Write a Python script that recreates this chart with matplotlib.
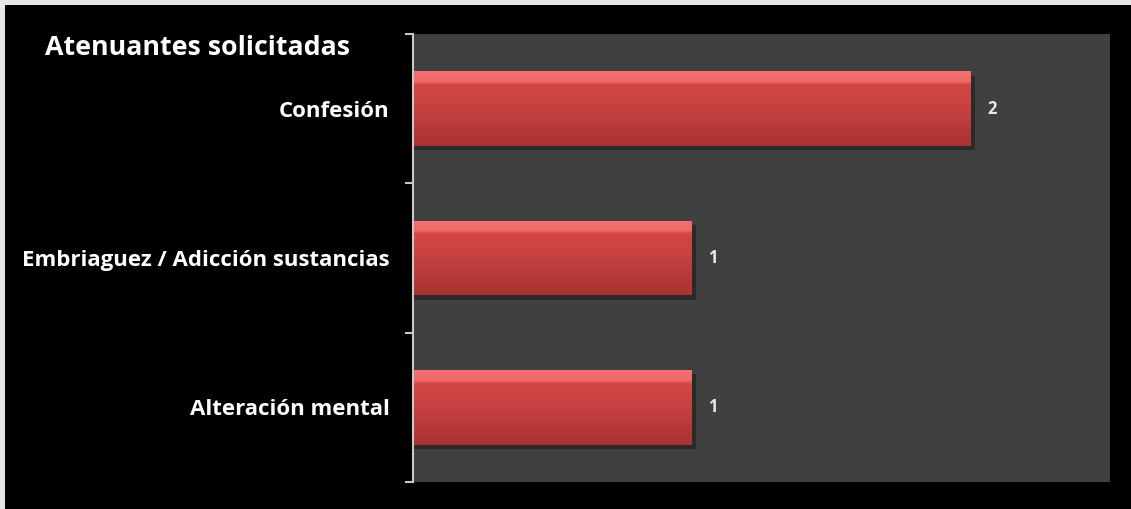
import numpy as np
import matplotlib.pyplot as plt
from matplotlib.patches import Rectangle
from matplotlib.colors import LinearSegmentedColormap

# data
categories = ['Alteración mental', 'Embriaguez / Adicción sustancias', 'Confesión']
values = [1, 1, 2]
title = 'Atenuantes solicitadas'

fig = plt.figure(figsize=(11.31, 5.09), dpi=100)
fig.patch.set_facecolor('black')

# light frame along top and left edges
fig.patches.append(Rectangle((0, 1 - 5 / 509), 1, 5 / 509, transform=fig.transFigure,
                             facecolor='#e6e6e6', edgecolor='none', zorder=0))
fig.patches.append(Rectangle((0, 0), 5 / 1131, 1, transform=fig.transFigure,
                             facecolor='#e6e6e6', edgecolor='none', zorder=0))

ax = fig.add_axes([413 / 1131, 1 - 482 / 509, (1110 - 413) / 1131, (482 - 34) / 509])
ax.set_facecolor('#404040')

y = np.arange(len(categories))
bars = ax.barh(y, values, height=0.5, color='#c94040', edgecolor='none', zorder=2)

# glossy gradient on each bar
grad = np.linspace(0, 1, 256).reshape(-1, 1)
cmap = LinearSegmentedColormap.from_list('bar', [
    (0.0, '#a83232'), (0.55, '#c94242'), (0.82, '#d44646'), (0.86, '#f06868'), (1.0, '#f57272')])
for b, v in zip(bars, values):
    x0, y0, w, h = b.get_x(), b.get_y(), b.get_width(), b.get_height()
    # shadow
    ax.add_patch(Rectangle((x0, y0 - 0.03), w + 0.015, h, facecolor='#2a2a2a',
                           edgecolor='none', zorder=1.5))
    im = ax.imshow(grad, extent=(x0, x0 + w, y0, y0 + h), origin='lower',
                   cmap=cmap, aspect='auto', zorder=2.5)
    im.set_clip_path(b)
    ax.text(x0 + w + 0.06, y0 + h / 2, str(v),
            color='#e8e8e8', fontsize=12, fontfamily='Open Sans', fontweight='bold',
            va='center', ha='left', zorder=3)

ax.set_xlim(0, 2.5)
ax.set_ylim(-0.5, len(categories) - 0.5)
ax.set_xticks([])
ax.set_yticks(np.arange(-0.5, len(categories), 1.0))
ax.set_yticklabels([])
ax.set_yticks(y, minor=True)
ax.set_yticklabels(categories, minor=True, color='white', fontsize=16,
                   fontfamily='Open Sans', fontweight='bold')
ax.tick_params(axis='y', which='major', length=6, width=1.5, color='#c8c8c8', direction='out')
ax.tick_params(axis='y', which='minor', length=0, pad=17)
for s in ['top', 'right', 'bottom']:
    ax.spines[s].set_visible(False)
ax.spines['left'].set_color('#c8c8c8')
ax.spines['left'].set_linewidth(1.5)

fig.text(45 / 1131, 1 - 48 / 509, title, color='white', fontsize=19.3,
         fontfamily='Open Sans', fontweight='bold', ha='left', va='center')

fig.savefig('out.png', dpi=100, facecolor=fig.get_facecolor())
